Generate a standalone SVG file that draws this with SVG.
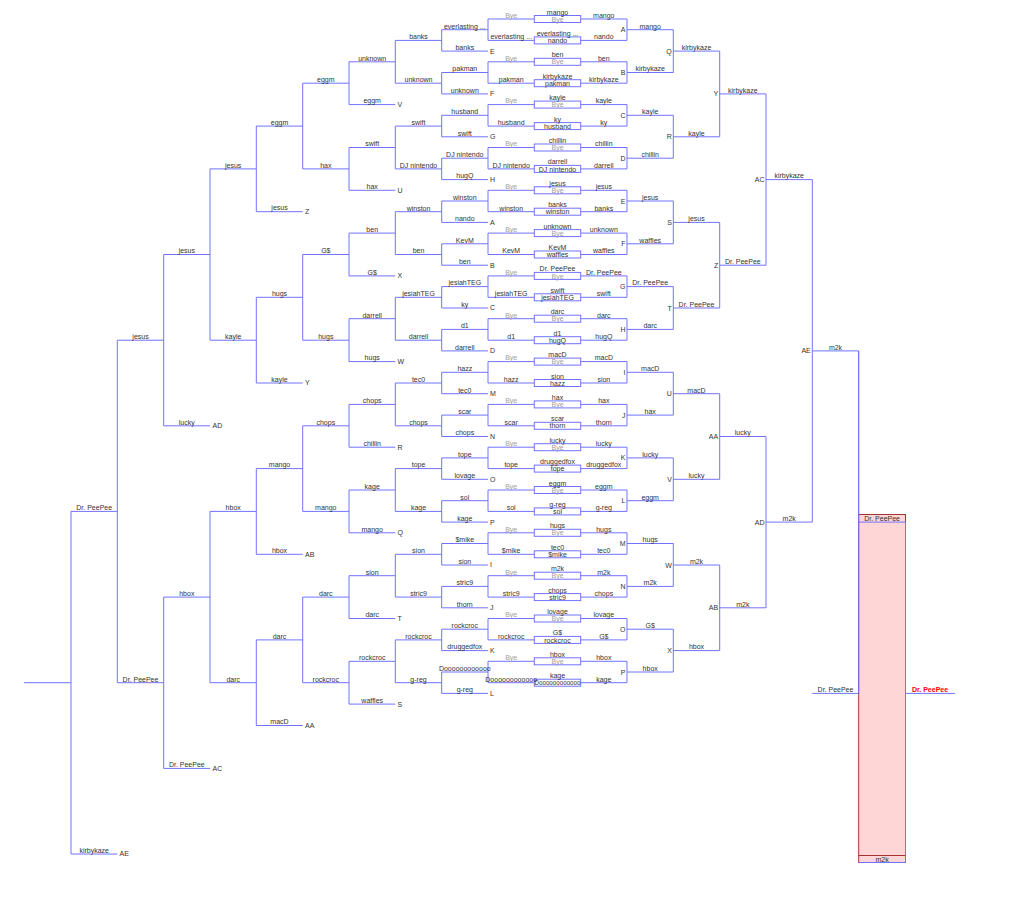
<svg xmlns="http://www.w3.org/2000/svg" width="1024" height="922" viewBox="0 0 1024 922">
<style>
.l{fill:none;stroke:#7272ff;stroke-width:1}
.bx{fill:#fff;stroke:#7272ff;stroke-width:1}
text{font-family:"Liberation Sans",Arial,sans-serif;font-size:7px;fill:#333;text-anchor:middle}
.g{fill:#a0a0a0}
.e{text-anchor:end}
.s{text-anchor:start}
.red{fill:#f00;font-weight:bold}
</style>
<rect width="1024" height="922" fill="#fff"/>
<g id="connectors" class="l">
<path d="M580.7,19H627V40.4H580.7M627,29.7H673.3M534.3,19H488V40.4H534.3M488,29.7H441.7V51.1H488M441.7,40.4H395.3"/>
<path d="M580.7,61.8H627V83.2H580.7M627,72.5H673.3M534.3,61.8H488V83.2H534.3M488,72.5H441.7V93.9H488M441.7,83.2H395.3"/>
<path d="M580.7,104.6H627V126.1H580.7M627,115.3H673.3M534.3,104.6H488V126.1H534.3M488,115.3H441.7V136.8H488M441.7,126.1H395.3"/>
<path d="M580.7,147.5H627V168.9H580.7M627,158.2H673.3M534.3,147.5H488V168.9H534.3M488,158.2H441.7V179.6H488M441.7,168.9H395.3"/>
<path d="M580.7,190.3H627V211.7H580.7M627,201H673.3M534.3,190.3H488V211.7H534.3M488,201H441.7V222.4H488M441.7,211.7H395.3"/>
<path d="M580.7,233.1H627V254.5H580.7M627,243.8H673.3M534.3,233.1H488V254.5H534.3M488,243.8H441.7V265.2H488M441.7,254.5H395.3"/>
<path d="M580.7,275.9H627V297.3H580.7M627,286.6H673.3M534.3,275.9H488V297.3H534.3M488,286.6H441.7V308H488M441.7,297.3H395.3"/>
<path d="M580.7,318.7H627V340.2H580.7M627,329.4H673.3M534.3,318.7H488V340.2H534.3M488,329.4H441.7V350.9H488M441.7,340.2H395.3"/>
<path d="M580.7,361.6H627V383H580.7M627,372.3H673.3M534.3,361.6H488V383H534.3M488,372.3H441.7V393.7H488M441.7,383H395.3"/>
<path d="M580.7,404.4H627V425.8H580.7M627,415.1H673.3M534.3,404.4H488V425.8H534.3M488,415.1H441.7V436.5H488M441.7,425.8H395.3"/>
<path d="M580.7,447.2H627V468.6H580.7M627,457.9H673.3M534.3,447.2H488V468.6H534.3M488,457.9H441.7V479.3H488M441.7,468.6H395.3"/>
<path d="M580.7,490H627V511.4H580.7M627,500.7H673.3M534.3,490H488V511.4H534.3M488,500.7H441.7V522.1H488M441.7,511.4H395.3"/>
<path d="M580.7,532.8H627V554.3H580.7M627,543.5H673.3M534.3,532.8H488V554.3H534.3M488,543.5H441.7V565H488M441.7,554.3H395.3"/>
<path d="M580.7,575.7H627V597.1H580.7M627,586.4H673.3M534.3,575.7H488V597.1H534.3M488,586.4H441.7V607.8H488M441.7,597.1H395.3"/>
<path d="M580.7,618.5H627V639.9H580.7M627,629.2H673.3M534.3,618.5H488V639.9H534.3M488,629.2H441.7V650.6H488M441.7,639.9H395.3"/>
<path d="M580.7,661.3H627V682.7H580.7M627,672H673.3M534.3,661.3H488V682.7H534.3M488,672H441.7V693.4H488M441.7,682.7H395.3"/>
<path d="M395.3,40.4V83.2M395.3,61.8H349V104.6H395.3M349,83.2H302.7"/>
<path d="M395.3,126.1V168.9M395.3,147.5H349V190.3H395.3M349,168.9H302.7"/>
<path d="M395.3,211.7V254.5M395.3,233.1H349V275.9H395.3M349,254.5H302.7"/>
<path d="M395.3,297.3V340.2M395.3,318.7H349V361.6H395.3M349,340.2H302.7"/>
<path d="M395.3,383V425.8M395.3,404.4H349V447.2H395.3M349,425.8H302.7"/>
<path d="M395.3,468.6V511.4M395.3,490H349V532.8H395.3M349,511.4H302.7"/>
<path d="M395.3,554.3V597.1M395.3,575.7H349V618.5H395.3M349,597.1H302.7"/>
<path d="M395.3,639.9V682.7M395.3,661.3H349V704.1H395.3M349,682.7H302.7"/>
<path d="M673.3,29.7V72.5M673.3,51.1H719.7"/>
<path d="M673.3,115.3V158.2M673.3,136.8H719.7"/>
<path d="M673.3,201V243.8M673.3,222.4H719.7"/>
<path d="M673.3,286.6V329.4M673.3,308H719.7"/>
<path d="M673.3,372.3V415.1M673.3,393.7H719.7"/>
<path d="M673.3,457.9V500.7M673.3,479.3H719.7"/>
<path d="M673.3,543.5V586.4M673.3,565H719.7"/>
<path d="M673.3,629.2V672M673.3,650.6H719.7"/>
<path d="M302.7,83.2V168.9M302.7,126.1H256.3V211.7H302.7M256.3,168.9H210"/>
<path d="M302.7,254.5V340.2M302.7,297.3H256.3V383H302.7M256.3,340.2H210"/>
<path d="M302.7,425.8V511.4M302.7,468.6H256.3V554.3H302.7M256.3,511.4H210"/>
<path d="M302.7,597.1V682.7M302.7,639.9H256.3V725.5H302.7M256.3,682.7H210"/>
<path d="M719.7,51.1V136.8M719.7,93.9H766"/>
<path d="M719.7,222.4V308M719.7,265.2H766"/>
<path d="M719.7,393.7V479.3M719.7,436.5H766"/>
<path d="M719.7,565V650.6M719.7,607.8H766"/>
<path d="M210,168.9V340.2M210,254.5H163.7V425.8H210M163.7,340.2H117.3"/>
<path d="M210,511.4V682.7M210,597.1H163.7V768.4H210M163.7,682.7H117.3"/>
<path d="M766,93.9V265.2M766,179.6H812.3"/>
<path d="M766,436.5V607.8M766,522.1H812.3"/>
<path d="M117.3,340.2V682.7M117.3,511.4H71V854H117.3M71,682.7H24"/>
<path d="M812.3,179.6V522.1M812.3,350.9H858.7V693.4"/>
<path d="M812.3,693.4H858.7M905.5,693.4H955"/>
</g>
<g id="w1-0" transform="translate(0,19)"><rect class="bx" x="534.3" y="-3.5" width="46.4" height="7"/><text x="557.5" y="-4.5">mango</text><text class="g" x="557.5" y="2.6">Bye</text><text x="603.8" y="-1.2">mango</text><text class="g" x="511.2" y="-1.2">Bye</text></g>
<g id="w1-1" transform="translate(0,40.4)"><rect class="bx" x="534.3" y="-3.5" width="46.4" height="7"/><text x="557.5" y="-4.5">everlasting ...</text><text x="557.5" y="2.6">nando</text><text x="603.8" y="-1.2">nando</text><text x="511.2" y="-1.2">everlasting ...</text></g>
<g id="w1-2" transform="translate(0,61.8)"><rect class="bx" x="534.3" y="-3.5" width="46.4" height="7"/><text x="557.5" y="-4.5">ben</text><text class="g" x="557.5" y="2.6">Bye</text><text x="603.8" y="-1.2">ben</text><text class="g" x="511.2" y="-1.2">Bye</text></g>
<g id="w1-3" transform="translate(0,83.2)"><rect class="bx" x="534.3" y="-3.5" width="46.4" height="7"/><text x="557.5" y="-4.5">kirbykaze</text><text x="557.5" y="2.6">pakman</text><text x="603.8" y="-1.2">kirbykaze</text><text x="511.2" y="-1.2">pakman</text></g>
<g id="w1-4" transform="translate(0,104.6)"><rect class="bx" x="534.3" y="-3.5" width="46.4" height="7"/><text x="557.5" y="-4.5">kayle</text><text class="g" x="557.5" y="2.6">Bye</text><text x="603.8" y="-1.2">kayle</text><text class="g" x="511.2" y="-1.2">Bye</text></g>
<g id="w1-5" transform="translate(0,126.1)"><rect class="bx" x="534.3" y="-3.5" width="46.4" height="7"/><text x="557.5" y="-4.5">ky</text><text x="557.5" y="2.6">husband</text><text x="603.8" y="-1.2">ky</text><text x="511.2" y="-1.2">husband</text></g>
<g id="w1-6" transform="translate(0,147.5)"><rect class="bx" x="534.3" y="-3.5" width="46.4" height="7"/><text x="557.5" y="-4.5">chillin</text><text class="g" x="557.5" y="2.6">Bye</text><text x="603.8" y="-1.2">chillin</text><text class="g" x="511.2" y="-1.2">Bye</text></g>
<g id="w1-7" transform="translate(0,168.9)"><rect class="bx" x="534.3" y="-3.5" width="46.4" height="7"/><text x="557.5" y="-4.5">darrell</text><text x="557.5" y="2.6">DJ nintendo</text><text x="603.8" y="-1.2">darrell</text><text x="511.2" y="-1.2">DJ nintendo</text></g>
<g id="w1-8" transform="translate(0,190.3)"><rect class="bx" x="534.3" y="-3.5" width="46.4" height="7"/><text x="557.5" y="-4.5">jesus</text><text class="g" x="557.5" y="2.6">Bye</text><text x="603.8" y="-1.2">jesus</text><text class="g" x="511.2" y="-1.2">Bye</text></g>
<g id="w1-9" transform="translate(0,211.7)"><rect class="bx" x="534.3" y="-3.5" width="46.4" height="7"/><text x="557.5" y="-4.5">banks</text><text x="557.5" y="2.6">winston</text><text x="603.8" y="-1.2">banks</text><text x="511.2" y="-1.2">winston</text></g>
<g id="w1-10" transform="translate(0,233.1)"><rect class="bx" x="534.3" y="-3.5" width="46.4" height="7"/><text x="557.5" y="-4.5">unknown</text><text class="g" x="557.5" y="2.6">Bye</text><text x="603.8" y="-1.2">unknown</text><text class="g" x="511.2" y="-1.2">Bye</text></g>
<g id="w1-11" transform="translate(0,254.5)"><rect class="bx" x="534.3" y="-3.5" width="46.4" height="7"/><text x="557.5" y="-4.5">KevM</text><text x="557.5" y="2.6">waffles</text><text x="603.8" y="-1.2">waffles</text><text x="511.2" y="-1.2">KevM</text></g>
<g id="w1-12" transform="translate(0,275.9)"><rect class="bx" x="534.3" y="-3.5" width="46.4" height="7"/><text x="557.5" y="-4.5">Dr. PeePee</text><text class="g" x="557.5" y="2.6">Bye</text><text x="603.8" y="-1.2">Dr. PeePee</text><text class="g" x="511.2" y="-1.2">Bye</text></g>
<g id="w1-13" transform="translate(0,297.3)"><rect class="bx" x="534.3" y="-3.5" width="46.4" height="7"/><text x="557.5" y="-4.5">swift</text><text x="557.5" y="2.6">jesiahTEG</text><text x="603.8" y="-1.2">swift</text><text x="511.2" y="-1.2">jesiahTEG</text></g>
<g id="w1-14" transform="translate(0,318.7)"><rect class="bx" x="534.3" y="-3.5" width="46.4" height="7"/><text x="557.5" y="-4.5">darc</text><text class="g" x="557.5" y="2.6">Bye</text><text x="603.8" y="-1.2">darc</text><text class="g" x="511.2" y="-1.2">Bye</text></g>
<g id="w1-15" transform="translate(0,340.2)"><rect class="bx" x="534.3" y="-3.5" width="46.4" height="7"/><text x="557.5" y="-4.5">d1</text><text x="557.5" y="2.6">hugQ</text><text x="603.8" y="-1.2">hugQ</text><text x="511.2" y="-1.2">d1</text></g>
<g id="w1-16" transform="translate(0,361.6)"><rect class="bx" x="534.3" y="-3.5" width="46.4" height="7"/><text x="557.5" y="-4.5">macD</text><text class="g" x="557.5" y="2.6">Bye</text><text x="603.8" y="-1.2">macD</text><text class="g" x="511.2" y="-1.2">Bye</text></g>
<g id="w1-17" transform="translate(0,383)"><rect class="bx" x="534.3" y="-3.5" width="46.4" height="7"/><text x="557.5" y="-4.5">sion</text><text x="557.5" y="2.6">hazz</text><text x="603.8" y="-1.2">sion</text><text x="511.2" y="-1.2">hazz</text></g>
<g id="w1-18" transform="translate(0,404.4)"><rect class="bx" x="534.3" y="-3.5" width="46.4" height="7"/><text x="557.5" y="-4.5">hax</text><text class="g" x="557.5" y="2.6">Bye</text><text x="603.8" y="-1.2">hax</text><text class="g" x="511.2" y="-1.2">Bye</text></g>
<g id="w1-19" transform="translate(0,425.8)"><rect class="bx" x="534.3" y="-3.5" width="46.4" height="7"/><text x="557.5" y="-4.5">scar</text><text x="557.5" y="2.6">thorn</text><text x="603.8" y="-1.2">thorn</text><text x="511.2" y="-1.2">scar</text></g>
<g id="w1-20" transform="translate(0,447.2)"><rect class="bx" x="534.3" y="-3.5" width="46.4" height="7"/><text x="557.5" y="-4.5">lucky</text><text class="g" x="557.5" y="2.6">Bye</text><text x="603.8" y="-1.2">lucky</text><text class="g" x="511.2" y="-1.2">Bye</text></g>
<g id="w1-21" transform="translate(0,468.6)"><rect class="bx" x="534.3" y="-3.5" width="46.4" height="7"/><text x="557.5" y="-4.5">druggedfox</text><text x="557.5" y="2.6">tope</text><text x="603.8" y="-1.2">druggedfox</text><text x="511.2" y="-1.2">tope</text></g>
<g id="w1-22" transform="translate(0,490)"><rect class="bx" x="534.3" y="-3.5" width="46.4" height="7"/><text x="557.5" y="-4.5">eggm</text><text class="g" x="557.5" y="2.6">Bye</text><text x="603.8" y="-1.2">eggm</text><text class="g" x="511.2" y="-1.2">Bye</text></g>
<g id="w1-23" transform="translate(0,511.4)"><rect class="bx" x="534.3" y="-3.5" width="46.4" height="7"/><text x="557.5" y="-4.5">g-reg</text><text x="557.5" y="2.6">sol</text><text x="603.8" y="-1.2">g-reg</text><text x="511.2" y="-1.2">sol</text></g>
<g id="w1-24" transform="translate(0,532.8)"><rect class="bx" x="534.3" y="-3.5" width="46.4" height="7"/><text x="557.5" y="-4.5">hugs</text><text class="g" x="557.5" y="2.6">Bye</text><text x="603.8" y="-1.2">hugs</text><text class="g" x="511.2" y="-1.2">Bye</text></g>
<g id="w1-25" transform="translate(0,554.3)"><rect class="bx" x="534.3" y="-3.5" width="46.4" height="7"/><text x="557.5" y="-4.5">tec0</text><text x="557.5" y="2.6">$mike</text><text x="603.8" y="-1.2">tec0</text><text x="511.2" y="-1.2">$mike</text></g>
<g id="w1-26" transform="translate(0,575.7)"><rect class="bx" x="534.3" y="-3.5" width="46.4" height="7"/><text x="557.5" y="-4.5">m2k</text><text class="g" x="557.5" y="2.6">Bye</text><text x="603.8" y="-1.2">m2k</text><text class="g" x="511.2" y="-1.2">Bye</text></g>
<g id="w1-27" transform="translate(0,597.1)"><rect class="bx" x="534.3" y="-3.5" width="46.4" height="7"/><text x="557.5" y="-4.5">chops</text><text x="557.5" y="2.6">stric9</text><text x="603.8" y="-1.2">chops</text><text x="511.2" y="-1.2">stric9</text></g>
<g id="w1-28" transform="translate(0,618.5)"><rect class="bx" x="534.3" y="-3.5" width="46.4" height="7"/><text x="557.5" y="-4.5">lovage</text><text class="g" x="557.5" y="2.6">Bye</text><text x="603.8" y="-1.2">lovage</text><text class="g" x="511.2" y="-1.2">Bye</text></g>
<g id="w1-29" transform="translate(0,639.9)"><rect class="bx" x="534.3" y="-3.5" width="46.4" height="7"/><text x="557.5" y="-4.5">G$</text><text x="557.5" y="2.6">rockcroc</text><text x="603.8" y="-1.2">G$</text><text x="511.2" y="-1.2">rockcroc</text></g>
<g id="w1-30" transform="translate(0,661.3)"><rect class="bx" x="534.3" y="-3.5" width="46.4" height="7"/><text x="557.5" y="-4.5">hbox</text><text class="g" x="557.5" y="2.6">Bye</text><text x="603.8" y="-1.2">hbox</text><text class="g" x="511.2" y="-1.2">Bye</text></g>
<g id="w1-31" transform="translate(0,682.7)"><rect class="bx" x="534.3" y="-3.5" width="46.4" height="7"/><text x="557.5" y="-4.5">kage</text><text x="557.5" y="2.6" textLength="46" lengthAdjust="spacingAndGlyphs">Doooooooooooo</text><text x="603.8" y="-1.2">kage</text><text x="511.2" y="-1.2">Doooooooooooo</text></g>
<g id="mA" transform="translate(0,29.7)"><text class="e" x="625.5" y="2.5">A</text><text x="650.2" y="-1.2">mango</text></g>
<g id="mB" transform="translate(0,72.5)"><text class="e" x="625.5" y="2.5">B</text><text x="650.2" y="-1.2">kirbykaze</text></g>
<g id="mC" transform="translate(0,115.3)"><text class="e" x="625.5" y="2.5">C</text><text x="650.2" y="-1.2">kayle</text></g>
<g id="mD" transform="translate(0,158.2)"><text class="e" x="625.5" y="2.5">D</text><text x="650.2" y="-1.2">chillin</text></g>
<g id="mE" transform="translate(0,201)"><text class="e" x="625.5" y="2.5">E</text><text x="650.2" y="-1.2">jesus</text></g>
<g id="mF" transform="translate(0,243.8)"><text class="e" x="625.5" y="2.5">F</text><text x="650.2" y="-1.2">waffles</text></g>
<g id="mG" transform="translate(0,286.6)"><text class="e" x="625.5" y="2.5">G</text><text x="650.2" y="-1.2">Dr. PeePee</text></g>
<g id="mH" transform="translate(0,329.4)"><text class="e" x="625.5" y="2.5">H</text><text x="650.2" y="-1.2">darc</text></g>
<g id="mI" transform="translate(0,372.3)"><text class="e" x="625.5" y="2.5">I</text><text x="650.2" y="-1.2">macD</text></g>
<g id="mJ" transform="translate(0,415.1)"><text class="e" x="625.5" y="2.5">J</text><text x="650.2" y="-1.2">hax</text></g>
<g id="mK" transform="translate(0,457.9)"><text class="e" x="625.5" y="2.5">K</text><text x="650.2" y="-1.2">lucky</text></g>
<g id="mL" transform="translate(0,500.7)"><text class="e" x="625.5" y="2.5">L</text><text x="650.2" y="-1.2">eggm</text></g>
<g id="mM" transform="translate(0,543.5)"><text class="e" x="625.5" y="2.5">M</text><text x="650.2" y="-1.2">hugs</text></g>
<g id="mN" transform="translate(0,586.4)"><text class="e" x="625.5" y="2.5">N</text><text x="650.2" y="-1.2">m2k</text></g>
<g id="mO" transform="translate(0,629.2)"><text class="e" x="625.5" y="2.5">O</text><text x="650.2" y="-1.2">G$</text></g>
<g id="mP" transform="translate(0,672)"><text class="e" x="625.5" y="2.5">P</text><text x="650.2" y="-1.2">hbox</text></g>
<g id="mQ" transform="translate(0,51.1)"><text class="e" x="671.8" y="2.5">Q</text><text x="696.5" y="-1.2">kirbykaze</text></g>
<g id="mR" transform="translate(0,136.8)"><text class="e" x="671.8" y="2.5">R</text><text x="696.5" y="-1.2">kayle</text></g>
<g id="mS" transform="translate(0,222.4)"><text class="e" x="671.8" y="2.5">S</text><text x="696.5" y="-1.2">jesus</text></g>
<g id="mT" transform="translate(0,308)"><text class="e" x="671.8" y="2.5">T</text><text x="696.5" y="-1.2">Dr. PeePee</text></g>
<g id="mU" transform="translate(0,393.7)"><text class="e" x="671.8" y="2.5">U</text><text x="696.5" y="-1.2">macD</text></g>
<g id="mV" transform="translate(0,479.3)"><text class="e" x="671.8" y="2.5">V</text><text x="696.5" y="-1.2">lucky</text></g>
<g id="mW" transform="translate(0,565)"><text class="e" x="671.8" y="2.5">W</text><text x="696.5" y="-1.2">m2k</text></g>
<g id="mX" transform="translate(0,650.6)"><text class="e" x="671.8" y="2.5">X</text><text x="696.5" y="-1.2">hbox</text></g>
<g id="mY" transform="translate(0,93.9)"><text class="e" x="718.2" y="2.5">Y</text><text x="742.8" y="-1.2">kirbykaze</text></g>
<g id="mZ" transform="translate(0,265.2)"><text class="e" x="718.2" y="2.5">Z</text><text x="742.8" y="-1.2">Dr. PeePee</text></g>
<g id="mAA" transform="translate(0,436.5)"><text class="e" x="718.2" y="2.5">AA</text><text x="742.8" y="-1.2">lucky</text></g>
<g id="mAB" transform="translate(0,607.8)"><text class="e" x="718.2" y="2.5">AB</text><text x="742.8" y="-1.2">m2k</text></g>
<g id="mAC" transform="translate(0,179.6)"><text class="e" x="764.5" y="2.5">AC</text><text x="789.2" y="-1.2">kirbykaze</text></g>
<g id="mAD" transform="translate(0,522.1)"><text class="e" x="764.5" y="2.5">AD</text><text x="789.2" y="-1.2">m2k</text></g>
<g id="mAE" transform="translate(0,350.9)"><text class="e" x="810.8" y="2.5">AE</text><text x="835.5" y="-1.2">m2k</text></g>
<g id="l2-0" transform="translate(0,40.4)"><text x="464.8" y="-11.9">everlasting ...</text><text x="464.8" y="9.5">banks</text><text class="s" x="490" y="13.2">E</text><text x="418.5" y="-1.2">banks</text></g>
<g id="l2-1" transform="translate(0,83.2)"><text x="464.8" y="-11.9">pakman</text><text x="464.8" y="9.5">unknown</text><text class="s" x="490" y="13.2">F</text><text x="418.5" y="-1.2">unknown</text></g>
<g id="l2-2" transform="translate(0,126.1)"><text x="464.8" y="-11.9">husband</text><text x="464.8" y="9.5">swift</text><text class="s" x="490" y="13.2">G</text><text x="418.5" y="-1.2">swift</text></g>
<g id="l2-3" transform="translate(0,168.9)"><text x="464.8" y="-11.9">DJ nintendo</text><text x="464.8" y="9.5">hugQ</text><text class="s" x="490" y="13.2">H</text><text x="418.5" y="-1.2">DJ nintendo</text></g>
<g id="l2-4" transform="translate(0,211.7)"><text x="464.8" y="-11.9">winston</text><text x="464.8" y="9.5">nando</text><text class="s" x="490" y="13.2">A</text><text x="418.5" y="-1.2">winston</text></g>
<g id="l2-5" transform="translate(0,254.5)"><text x="464.8" y="-11.9">KevM</text><text x="464.8" y="9.5">ben</text><text class="s" x="490" y="13.2">B</text><text x="418.5" y="-1.2">ben</text></g>
<g id="l2-6" transform="translate(0,297.3)"><text x="464.8" y="-11.9">jesiahTEG</text><text x="464.8" y="9.5">ky</text><text class="s" x="490" y="13.2">C</text><text x="418.5" y="-1.2">jesiahTEG</text></g>
<g id="l2-7" transform="translate(0,340.2)"><text x="464.8" y="-11.9">d1</text><text x="464.8" y="9.5">darrell</text><text class="s" x="490" y="13.2">D</text><text x="418.5" y="-1.2">darrell</text></g>
<g id="l2-8" transform="translate(0,383)"><text x="464.8" y="-11.9">hazz</text><text x="464.8" y="9.5">tec0</text><text class="s" x="490" y="13.2">M</text><text x="418.5" y="-1.2">tec0</text></g>
<g id="l2-9" transform="translate(0,425.8)"><text x="464.8" y="-11.9">scar</text><text x="464.8" y="9.5">chops</text><text class="s" x="490" y="13.2">N</text><text x="418.5" y="-1.2">chops</text></g>
<g id="l2-10" transform="translate(0,468.6)"><text x="464.8" y="-11.9">tope</text><text x="464.8" y="9.5">lovage</text><text class="s" x="490" y="13.2">O</text><text x="418.5" y="-1.2">tope</text></g>
<g id="l2-11" transform="translate(0,511.4)"><text x="464.8" y="-11.9">sol</text><text x="464.8" y="9.5">kage</text><text class="s" x="490" y="13.2">P</text><text x="418.5" y="-1.2">kage</text></g>
<g id="l2-12" transform="translate(0,554.3)"><text x="464.8" y="-11.9">$mike</text><text x="464.8" y="9.5">sion</text><text class="s" x="490" y="13.2">I</text><text x="418.5" y="-1.2">sion</text></g>
<g id="l2-13" transform="translate(0,597.1)"><text x="464.8" y="-11.9">stric9</text><text x="464.8" y="9.5">thorn</text><text class="s" x="490" y="13.2">J</text><text x="418.5" y="-1.2">stric9</text></g>
<g id="l2-14" transform="translate(0,639.9)"><text x="464.8" y="-11.9">rockcroc</text><text x="464.8" y="9.5">druggedfox</text><text class="s" x="490" y="13.2">K</text><text x="418.5" y="-1.2">rockcroc</text></g>
<g id="l2-15" transform="translate(0,682.7)"><text x="464.8" y="-11.9">Doooooooooooo</text><text x="464.8" y="9.5">g-reg</text><text class="s" x="490" y="13.2">L</text><text x="418.5" y="-1.2">g-reg</text></g>
<g id="l4-0" transform="translate(0,83.2)"><text x="372.2" y="-22.6">unknown</text><text x="372.2" y="20.2">eggm</text><text class="s" x="397.5" y="23.9">V</text><text x="325.8" y="-1.2">eggm</text></g>
<g id="l4-1" transform="translate(0,168.9)"><text x="372.2" y="-22.6">swift</text><text x="372.2" y="20.2">hax</text><text class="s" x="397.5" y="23.9">U</text><text x="325.8" y="-1.2">hax</text></g>
<g id="l4-2" transform="translate(0,254.5)"><text x="372.2" y="-22.6">ben</text><text x="372.2" y="20.2">G$</text><text class="s" x="397.5" y="23.9">X</text><text x="325.8" y="-1.2">G$</text></g>
<g id="l4-3" transform="translate(0,340.2)"><text x="372.2" y="-22.6">darrell</text><text x="372.2" y="20.2">hugs</text><text class="s" x="397.5" y="23.9">W</text><text x="325.8" y="-1.2">hugs</text></g>
<g id="l4-4" transform="translate(0,425.8)"><text x="372.2" y="-22.6">chops</text><text x="372.2" y="20.2">chillin</text><text class="s" x="397.5" y="23.9">R</text><text x="325.8" y="-1.2">chops</text></g>
<g id="l4-5" transform="translate(0,511.4)"><text x="372.2" y="-22.6">kage</text><text x="372.2" y="20.2">mango</text><text class="s" x="397.5" y="23.9">Q</text><text x="325.8" y="-1.2">mango</text></g>
<g id="l4-6" transform="translate(0,597.1)"><text x="372.2" y="-22.6">sion</text><text x="372.2" y="20.2">darc</text><text class="s" x="397.5" y="23.9">T</text><text x="325.8" y="-1.2">darc</text></g>
<g id="l4-7" transform="translate(0,682.7)"><text x="372.2" y="-22.6">rockcroc</text><text x="372.2" y="20.2">waffles</text><text class="s" x="397.5" y="23.9">S</text><text x="325.8" y="-1.2">rockcroc</text></g>
<g id="l6-0" transform="translate(0,168.9)"><text x="279.5" y="-44">eggm</text><text x="279.5" y="41.6">jesus</text><text class="s" x="305" y="45.3">Z</text><text x="233.2" y="-1.2">jesus</text></g>
<g id="l6-1" transform="translate(0,340.2)"><text x="279.5" y="-44">hugs</text><text x="279.5" y="41.6">kayle</text><text class="s" x="305" y="45.3">Y</text><text x="233.2" y="-1.2">kayle</text></g>
<g id="l6-2" transform="translate(0,511.4)"><text x="279.5" y="-44">mango</text><text x="279.5" y="41.6">hbox</text><text class="s" x="305" y="45.3">AB</text><text x="233.2" y="-1.2">hbox</text></g>
<g id="l6-3" transform="translate(0,682.7)"><text x="279.5" y="-44">darc</text><text x="279.5" y="41.6">macD</text><text class="s" x="305" y="45.3">AA</text><text x="233.2" y="-1.2">darc</text></g>
<g id="l8-0" transform="translate(0,340.2)"><text x="186.8" y="-86.8">jesus</text><text x="186.8" y="84.4">lucky</text><text class="s" x="212.5" y="88.1">AD</text><text x="140.5" y="-1.2">jesus</text></g>
<g id="l8-1" transform="translate(0,682.7)"><text x="186.8" y="-86.8">hbox</text><text x="186.8" y="84.4">Dr. PeePee</text><text class="s" x="212.5" y="88.1">AC</text><text x="140.5" y="-1.2">Dr. PeePee</text></g>
<g id="l10" transform="translate(0,682.7)"><text x="94.2" y="-172.5">Dr. PeePee</text><text x="94.2" y="170.1">kirbykaze</text><text class="s" x="119.5" y="173.8">AE</text></g>
<g id="grand-final">
<rect x="858.7" y="514.5" width="46.8" height="348" fill="#ffd6d6" stroke="#a33333" stroke-width="1"/>
<path d="M858.7,855.5H905.5" fill="none" stroke="#a33333" stroke-width="1"/>
<path class="l" d="M858.7,522.1H905.5V862.5H858.7M858.7,350.9V693.4"/>
<text x="882.1" y="520.6">Dr. PeePee</text>
<text x="882.1" y="861.5">m2k</text>
<text x="835.5" y="692.2">Dr. PeePee</text>
<text class="red" x="930" y="692.2">Dr. PeePee</text>
</g>
</svg>
